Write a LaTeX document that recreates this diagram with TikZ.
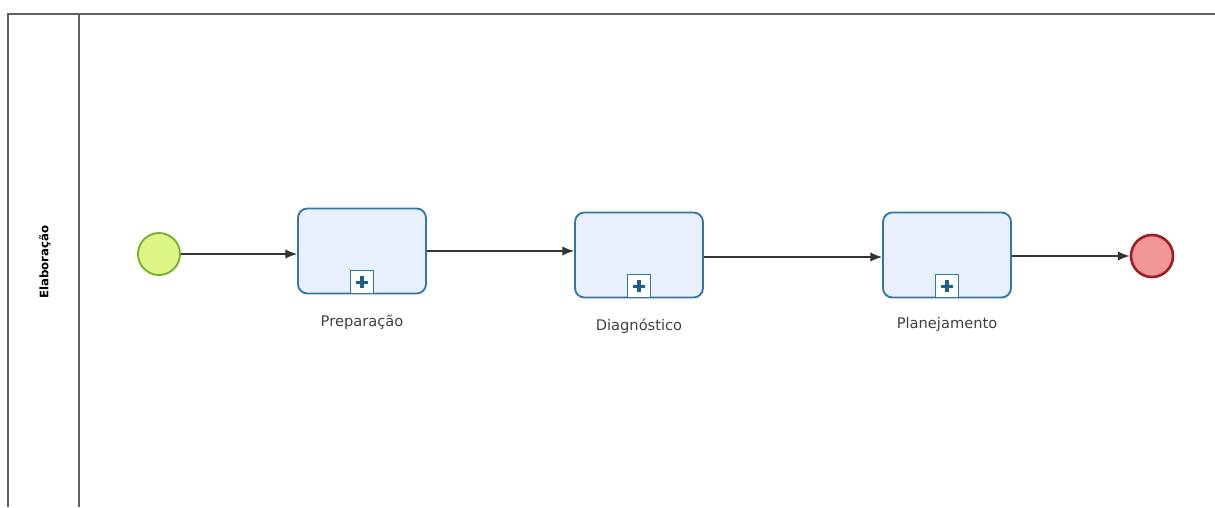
\documentclass[tikz,border=0pt]{standalone}
\usepackage{fontspec}
\setmainfont{DejaVu Sans}
\usetikzlibrary{arrows.meta, positioning, calc}
\definecolor{taskfill}{RGB}{232,240,252}
\definecolor{taskline}{RGB}{52,118,168}
\definecolor{startfill}{RGB}{222,246,132}
\definecolor{startline}{RGB}{118,176,46}
\definecolor{endfill}{RGB}{240,152,152}
\definecolor{endline}{RGB}{158,34,34}
\definecolor{plusblue}{RGB}{28,96,146}
\definecolor{poolline}{RGB}{95,95,95}
\tikzstyle{startev}=[shape=circle, draw=startline, fill=startfill, line width=1.6pt, inner sep=0pt, minimum size=42*0.03cm]
\tikzstyle{endev}=[shape=circle, draw=endline, fill=endfill, line width=2.3pt, inner sep=0pt, minimum size=42*0.03cm]
\tikzstyle{task}=[shape=rectangle, rounded corners=8pt, draw=taskline, fill=taskfill, line width=1.6pt, minimum width=128*0.03cm, minimum height=85*0.03cm, inner sep=0pt]
\tikzstyle{plusbox}=[shape=rectangle, draw=taskline, fill=white, line width=1.3pt, minimum size=23*0.03cm, inner sep=0pt]
\tikzstyle{tasklabel}=[font=\fontsize{12.5}{14}\selectfont, text=black!75]
\tikzstyle{flow}=[-{Latex[length=10pt,width=8pt]}, line width=1.1pt, black!80]

\begin{document}
\begin{tikzpicture}[x=0.03cm, y=-0.03cm]
\useasboundingbox (0,0) rectangle (1215,507);
% pool and lane
\draw [poolline, line width=1.4pt] (1215,14) -- (8,14) -- (8,507);
\draw [poolline, line width=1.4pt] (79,14) -- (79,507);
\node [rotate=90, font=\fontsize{10}{12}\selectfont\bfseries] (lane) at (45,262) {Elaboração};
% events
\node [startev] (start) at (159,254) {};
\node [endev] (stop) at (1152,256) {};
% sub-processes
\node [task] (prep) at (362,251) {};
\node [task] (diag) at (639,255) {};
\node [task] (plan) at (947,255) {};
\foreach \t in {prep,diag,plan}{
\node [plusbox, anchor=south] (\t plus) at (\t.south) {};
\draw [plusblue, line width=2.6pt] ($(\t plus.center)+(-6,0)$) -- ($(\t plus.center)+(6,0)$) ($(\t plus.center)+(0,-6)$) -- ($(\t plus.center)+(0,6)$);
}
\node [tasklabel] (preplab) at (362,322) {Preparação};
\node [tasklabel] (diaglab) at (639,326) {Diagnóstico};
\node [tasklabel] (planlab) at (947,324) {Planejamento};
% sequence flows
\draw [flow] (start) -- (start -| prep.west);
\draw [flow] (prep.east |- 0,251) -- (diag.west |- 0,251);
\draw [flow] (diag.east |- 0,257) -- (plan.west |- 0,257);
\draw [flow] (plan.east |- 0,256) -- (stop);
\end{tikzpicture}
\end{document}
